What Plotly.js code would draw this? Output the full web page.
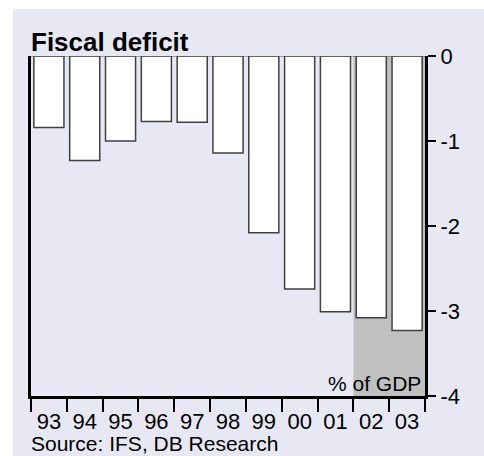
<!DOCTYPE html>
<html><head><meta charset="utf-8">
<script src="https://cdn.plot.ly/plotly-3.0.1.min.js"></script>
<style>
html,body{margin:0;padding:0;background:#ffffff;width:484px;height:456px;overflow:hidden}
#chart{position:absolute;left:13px;top:9px;width:471px;height:447px}
</style></head>
<body><div id="chart"></div>
<script>
const years = ['93','94','95','96','97','98','99','00','01','02','03'];
const deficit = [-0.84,-1.23,-1.0,-0.77,-0.78,-1.14,-2.08,-2.74,-3.01,-3.08,-3.23];
const forecastYears = ['02','03'];
const yTickVals = [0,-1,-2,-3,-4];
const yTickText = ['0','-1','-2','-3','-4'];
const titleText = 'Fiscal deficit';
const unitText = '% of GDP';
const sourceText = 'Source: IFS, DB Research';

const FONT = 'Liberation Sans, Arial, sans-serif';
const fStart = years.indexOf(forecastYears[0]) - 0.5;
const fEnd = years.indexOf(forecastYears[forecastYears.length-1]) + 0.5;

const trace = {
  type:'bar', x: years, y: deficit,
  marker:{color:'#ffffff', line:{color:'#404040', width:1.5}},
  hoverinfo:'skip'
};
const layout = {
  width:471, height:447,
  margin:{l:18, r:59, t:47, b:60},
  paper_bgcolor:'#E8E8F5', plot_bgcolor:'rgba(0,0,0,0)',
  font:{family:FONT, color:'#000', size:21},
  showlegend:false,
  bargap:0.16,
  xaxis:{type:'category', tickson:'boundaries', ticks:'outside', ticklen:13, tickwidth:2,
    tickcolor:'#000', showline:true, linecolor:'#000', linewidth:3, showgrid:false,
    tickfont:{size:22}, ticklabelstandoff:4, range:[-0.5, years.length-0.5], fixedrange:true},
  yaxis:{side:'right', range:[-4,0], tickvals:yTickVals, ticktext:yTickText, ticks:'outside',
    ticklen:8, tickwidth:2, tickcolor:'#000', showline:true, mirror:true, linecolor:'#000',
    linewidth:3, showgrid:false, zeroline:false, tickfont:{size:22}, fixedrange:true},
  shapes:[
    {type:'rect', xref:'x', yref:'y', x0:fStart, x1:fEnd, y0:-4, y1:0, fillcolor:'#C0C0C0', line:{width:0}, layer:'below'},
    {type:'line', xref:'paper', yref:'y', x0:0, x1:1, y0:0, y1:0, line:{color:'#555', width:1}, layer:'above'}
  ],
  annotations:[
    {text:'<b>'+titleText+'</b>', xref:'paper', yref:'paper', x:0, y:1, xanchor:'left', yanchor:'bottom',
     showarrow:false, font:{size:26}, xshift:-2, yshift:-3},
    {text:unitText, xref:'paper', yref:'y', x:1, y:-4, xanchor:'right', yanchor:'bottom',
     showarrow:false, font:{size:21}, xshift:-2, yshift:-1},
    {text:sourceText, xref:'paper', yref:'paper', x:0, y:0, xanchor:'left', yanchor:'top',
     showarrow:false, font:{size:21}, xshift:-2, yshift:-34}
  ]
};
Plotly.newPlot('chart',[trace],layout,{displayModeBar:false, staticPlot:true});
</script></body></html>
